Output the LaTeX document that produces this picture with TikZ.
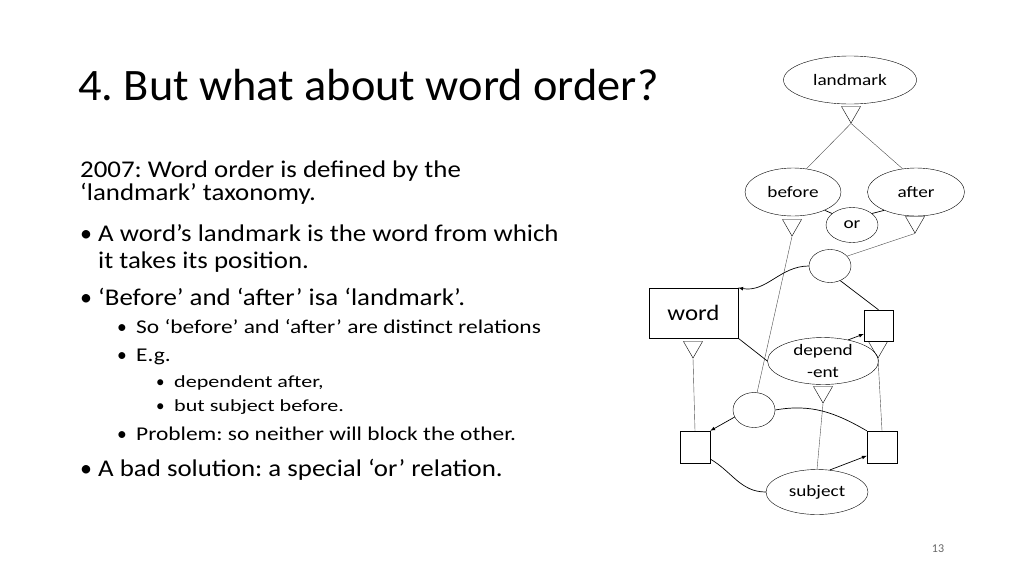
\documentclass[tikz,border=0pt]{standalone}
\usepackage{fontspec}
\usepackage{graphicx}
\setmainfont{Carlito}
\frenchspacing
\usetikzlibrary{shapes.geometric}
\newcommand\wide[2]{\scalebox{#1}[1]{#2}}

\begin{document}
\begin{tikzpicture}[x=1pt,y=-1pt]
    \tikzset{concept/.style={draw=black,ellipse,inner sep=0pt,font=\fontsize{16}{18}\selectfont},
      box/.style={draw=black,rectangle,inner sep=0pt},
      isa/.style={draw=black,regular polygon,regular polygon sides=3,shape border rotate=180,minimum size=22pt,inner sep=0pt},
      thin link/.style={draw=black!70,line width=0.4pt},
      link/.style={draw=black,line width=0.7pt},
      line/.style={anchor=base west,inner sep=0pt}}
    \useasboundingbox (0,0) rectangle (1024,576);

    %title and text
    \node[line,font=\fontsize{45}{50}\selectfont] (title) at (78,100) {\wide{1.03}{4. But what about word order?}};
    \begin{scope}[font=\fontsize{24}{26}\selectfont]
    \node[line] (t1) at (80,177) {\wide{1.12}{2007: Word order is defined by the}};
    \node[line] (t2) at (80,200) {\wide{1.12}{‘landmark’ taxonomy.}};
    \node[line] (b1) at (80,241) {•};
    \node[line] (t3) at (98,241) {\wide{1.12}{A word’s landmark is the word from which}};
    \node[line] (t4) at (98,268) {\wide{1.12}{it takes its position.}};
    \node[line] (b2) at (80,305) {•};
    \node[line] (t5) at (98,305) {\wide{1.12}{‘Before’ and ‘after’ isa ‘landmark’.}};
    \node[line] (b3) at (80,476) {•};
    \node[line] (t6) at (98,476) {\wide{1.12}{A bad solution: a special ‘or’ relation.}};
    \end{scope}
    \begin{scope}[font=\fontsize{19.5}{22}\selectfont]
    \node[line] (s1) at (117,333) {•};
    \node[line] (s1t) at (136,333) {\wide{1.2}{So ‘before’ and ‘after’ are distinct relations}};
    \node[line] (s2) at (117,361) {•};
    \node[line] (s2t) at (136,361) {\wide{1.2}{E.g.}};
    \node[line] (s3) at (117,440) {•};
    \node[line] (s3t) at (136,440) {\wide{1.2}{Problem: so neither will block the other.}};
    \end{scope}
    \begin{scope}[font=\fontsize{17}{20}\selectfont]
    \node[line] (u1) at (156,387) {•};
    \node[line] (u1t) at (174,387) {\wide{1.3}{dependent after,}};
    \node[line] (u2) at (156,411) {•};
    \node[line] (u2t) at (174,411) {\wide{1.3}{but subject before.}};
    \end{scope}
    \node[font=\fontsize{12}{12}\selectfont,text=black!60] (page) at (938,549) {13};

    %network
    \node[concept,minimum width=133pt,minimum height=48pt] (landmark) at (850,80) {\wide{1.2}{landmark}};
    \node[concept,minimum width=96pt,minimum height=48pt] (before) at (793,192) {\wide{1.2}{before}};
    \node[concept,minimum width=97pt,minimum height=48pt] (after) at (916,192) {\wide{1.2}{after}};
    \node[concept,minimum width=52pt,minimum height=35pt] (or) at (852,225) {\wide{1.2}{or}};
    \node[concept,minimum width=42pt,minimum height=33pt] (c1) at (830,266) {};
    \node[concept,minimum width=42pt,minimum height=35pt] (c2) at (754,410) {};
    \node[concept,minimum width=111pt,minimum height=45pt,align=center,font=\fontsize{16}{22}\selectfont] (depend) at (823,361) {\wide{1.2}{depend}\\\wide{1.2}{-ent}};
    \node[concept,minimum width=102pt,minimum height=45pt] (subject) at (817,492) {\wide{1.2}{subject}};
    \node[box,minimum width=89pt,minimum height=50pt,font=\fontsize{22}{24}\selectfont] (word) at (693.5,313) {\wide{1.13}{word}};
    \node[box,minimum width=29pt,minimum height=31pt] (ru) at (878.5,325.5) {};
    \node[box,minimum width=30pt,minimum height=32pt] (ll) at (695,447) {};
    \node[box,minimum width=30pt,minimum height=32pt] (rl) at (882,447) {};

    \node[isa] (landmark-isa) at (851,112) {};
    \node[isa] (before-isa) at (792,225) {};
    \node[isa] (after-isa) at (915,222) {};
    \node[isa] (word-isa) at (693,347) {};
    \node[isa] (ru-isa) at (878,347) {};
    \node[isa] (depend-isa) at (823,392) {};

    \draw[thin link] (landmark-isa.corner 1) -- (before.60);
    \draw[thin link] (landmark-isa.corner 1) -- (after.120);
    \draw[link] (before.-30) -- (or.150);
    \draw[link] (after.-150) -- (or.30);
    \draw[thin link] (before-isa.corner 1) -- (c2.80);
    \draw[thin link] (after-isa.corner 1) -- (c1.30);
    \draw[thin link] (word-isa.corner 1) -- (ll.north);
    \draw[thin link] (ru-isa.corner 1) -- (rl.north);
    \draw[thin link] (depend-isa.corner 1) -- (subject.north);

    \draw[link,-latex] (c1.west) to[out=180,in=-10] (word.north east);
    \draw[link] (c1.-55) -- (ru.north);
    \draw[link] (word.south east) -- (depend.west);
    \draw[link,-latex] (depend.40) -- (ru.-150);
    \draw[link,-latex] (c2.-160) -- (ll.north east);
    \draw[link] (c2.east) to[out=10,in=150] (rl.north west);
    \draw[link,-latex] (subject.60) -- (rl.-150);
    \draw[link] ([yshift=-12pt]ll.east) to[out=-30,in=180] (subject.west);
\end{tikzpicture}
\end{document}
